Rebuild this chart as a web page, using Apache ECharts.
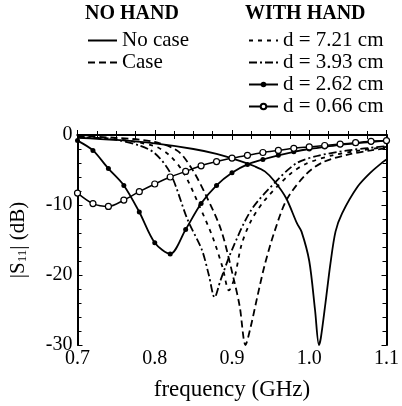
<!DOCTYPE html>
<html>
<head>
<meta charset="utf-8">
<script src="https://cdn.jsdelivr.net/npm/echarts@6/dist/echarts.min.js"></script>
<style>
html,body{margin:0;padding:0;background:#fff;}
#chart{width:402px;height:406px;}
</style>
</head>
<body>
<div id="chart"></div>
<script>
// frequency (GHz) / |S11| (dB)
var fNoCase = [0.70,0.75,0.80,0.85,0.88,0.91,0.93,0.9425,0.955,0.97,0.984,0.99,1.00,1.0075,1.0125,1.015,1.021,1.0275,1.034,1.0425,1.0625,1.08,1.096,1.10];
var sNoCase = [-0.4,-0.7,-1.2,-2.0,-2.7,-3.7,-4.5,-5.2,-6.6,-9.0,-12.6,-13.8,-18.0,-25.0,-30.0,-29.0,-24.0,-18.3,-13.8,-11.2,-7.4,-5.3,-3.8,-3.5];

var fCase = [0.70,0.75,0.80,0.83,0.849,0.8675,0.886,0.9025,0.91,0.9175,0.924,0.933,0.9425,0.955,0.971,0.996,1.0175,1.05,1.08,1.10];
var sCase = [-0.2,-0.4,-1.0,-2.3,-5.0,-8.9,-13.6,-20.7,-24.5,-30.0,-27.5,-23.0,-18.5,-13.8,-9.2,-5.6,-3.9,-2.8,-2.2,-1.9];

var f721 = [0.70,0.75,0.80,0.82,0.8375,0.856,0.875,0.888,0.896,0.903,0.9125,0.925,0.9425,0.975,0.996,1.03,1.06,1.10];
var s721 = [-0.3,-0.6,-1.6,-3.0,-5.4,-9.7,-14.6,-19.0,-22.2,-20.5,-15.6,-12.2,-9.3,-5.6,-4.1,-2.9,-2.3,-1.7];

var f393 = [0.70,0.75,0.78,0.80,0.82,0.8425,0.861,0.87,0.8775,0.885,0.90,0.925,0.959,0.984,1.01,1.05,1.10];
var s393 = [-0.3,-0.7,-1.5,-2.6,-5.4,-12.1,-16.4,-20.0,-23.2,-20.8,-16.4,-10.7,-6.4,-4.0,-3.0,-2.2,-1.6];

var fMark = [0.70,0.72,0.74,0.76,0.78,0.80,0.82,0.84,0.86,0.88,0.90,0.92,0.94,0.96,0.98,1.00,1.02,1.04,1.06,1.08,1.10];
var s262 = [-0.8,-2.2,-4.8,-7.2,-11.0,-15.4,-17.0,-13.5,-9.8,-7.2,-5.4,-4.2,-3.5,-2.9,-2.4,-2.0,-1.7,-1.4,-1.2,-1.0,-0.8];
var s066 = [-8.3,-9.8,-10.2,-9.3,-8.1,-7.0,-6.0,-5.2,-4.4,-3.8,-3.3,-2.9,-2.5,-2.2,-1.9,-1.7,-1.5,-1.3,-1.1,-0.9,-0.8];

var noHand = ['No case', 'Case'];
var withHand = ['d = 7.21 cm', 'd = 3.93 cm', 'd = 2.62 cm', 'd = 0.66 cm'];

function zip(f, s) {
    return f.map(function (x, i) { return [x, s[i]]; });
}

var serif = 'Liberation Serif';
var black = '#000';

function line(name, f, s, dash, extra) {
    var o = {
        name: name,
        type: 'line',
        data: zip(f, s),
        symbol: 'none',
        smooth: 0.3,
        lineStyle: { color: black, width: 1.8, type: dash },
        itemStyle: { color: black },
        z: 3
    };
    for (var k in extra) o[k] = extra[k];
    return o;
}

// legend entry without the marker dot for plain lines
function entry(name, plain) {
    return plain ? { name: name, itemStyle: { opacity: 0 } } : { name: name };
}

var legendBase = {
    orient: 'vertical', top: 25,
    itemWidth: 29, itemHeight: 7, itemGap: 1,
    textStyle: { fontFamily: serif, fontSize: 21, color: black }
};

var chart = echarts.init(document.getElementById('chart'));
chart.setOption({
    animation: false,
    textStyle: { fontFamily: serif, color: black },
    grid: { left: 73, right: 10, top: 135, bottom: 61 },
    legend: [
        Object.assign({}, legendBase, { left: 82, data: noHand.map(function (n) { return entry(n, true); }) }),
        Object.assign({}, legendBase, { left: 243, data: withHand.map(function (n, i) { return entry(n, i < 2); }) })
    ],
    graphic: [
        { type: 'text', left: 85, top: 4, style: { text: 'NO HAND', font: 'bold 20px "Liberation Serif"', fill: black } },
        { type: 'text', left: 245, top: 4, style: { text: 'WITH HAND', font: 'bold 20px "Liberation Serif"', fill: black } }
    ],
    xAxis: [{
        type: 'value', min: 0.7, max: 1.1, interval: 0.1,
        name: 'frequency (GHz)', nameLocation: 'middle', nameGap: 33,
        nameTextStyle: { fontFamily: serif, fontSize: 23, color: black },
        axisLine: { lineStyle: { color: black, width: 2 } },
        axisTick: { inside: true, length: 5, lineStyle: { color: black } },
        minorTick: { show: true, splitNumber: 4, length: 4, lineStyle: { color: black } },
        splitLine: { show: false },
        axisLabel: { fontSize: 20, color: black, margin: 4,
            formatter: function (v) { return v.toFixed(1); } }
    }, {
        type: 'value', min: 0.7, max: 1.1, interval: 0.1, position: 'top',
        axisLine: { lineStyle: { color: black, width: 2 } },
        axisTick: { inside: true, length: 5, lineStyle: { color: black } },
        minorTick: { show: true, splitNumber: 4, length: 4, lineStyle: { color: black } },
        splitLine: { show: false }, axisLabel: { show: false }
    }],
    yAxis: [{
        type: 'value', min: -30, max: 0, interval: 10,
        name: '|S{sub|11}| (dB)', nameLocation: 'middle', nameGap: 48, nameRotate: 90,
        nameTextStyle: { fontFamily: serif, fontSize: 21, color: black,
            rich: { sub: { fontFamily: serif, fontSize: 13, verticalAlign: 'bottom', padding: [9, 0, 0, 0] } } },
        axisLine: { lineStyle: { color: black, width: 2 } },
        axisTick: { inside: true, length: 5, lineStyle: { color: black } },
        minorTick: { show: true, splitNumber: 5, length: 4, lineStyle: { color: black } },
        splitLine: { show: false },
        axisLabel: { fontSize: 20, color: black, margin: 5 }
    }, {
        type: 'value', min: -30, max: 0, interval: 10, position: 'right',
        axisLine: { lineStyle: { color: black, width: 2 } },
        axisTick: { inside: true, length: 5, lineStyle: { color: black } },
        minorTick: { show: true, splitNumber: 5, length: 4, lineStyle: { color: black } },
        splitLine: { show: false }, axisLabel: { show: false }
    }],
    series: [
        line(noHand[0], fNoCase, sNoCase, 'solid'),
        line(noHand[1], fCase, sCase, [7, 4]),
        line(withHand[0], f721, s721, [4, 5]),
        line(withHand[1], f393, s393, [8, 3, 2, 3]),
        line(withHand[2], fMark, s262, 'solid', { symbol: 'circle', symbolSize: 5, showSymbol: true }),
        line(withHand[3], fMark, s066, 'solid', {
            symbol: 'circle', symbolSize: 6, showSymbol: true, lineStyle: { color: black, width: 1.5 },
            itemStyle: { color: '#fff', borderColor: black, borderWidth: 1.2 } })
    ]
});
</script>
</body>
</html>
